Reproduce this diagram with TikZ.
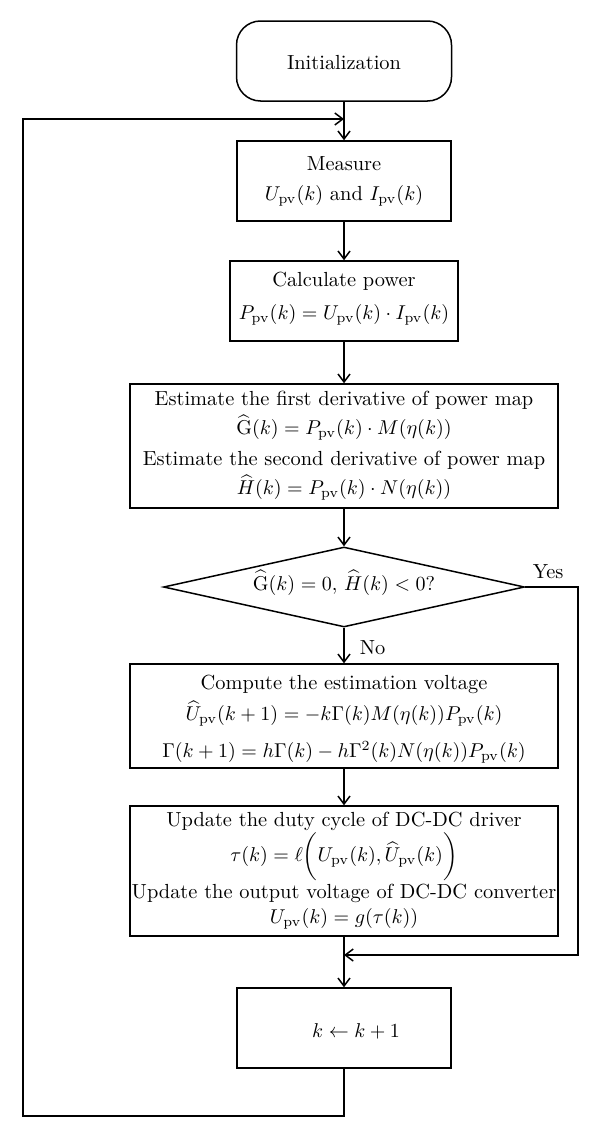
\documentclass[tikz,border=0pt]{standalone}
\usepackage{amsmath}
\usetikzlibrary{arrows.meta,shapes.geometric}
\newcommand{\fsz}[1]{\fontsize{10.2}{#1}\selectfont}
\begin{document}
\begin{tikzpicture}[x=0.5pt,y=-0.5pt,
  line width=0.75pt,
  box/.style={draw, inner sep=0pt},
  txt/.style={anchor=center, inner sep=0pt, align=center, font=\fsz{12pt}},
  arr/.style={-{Straight Barb[length=4pt,width=6pt,line width=0.75pt]}}]
\useasboundingbox (0,0) rectangle (600,1140);
% boxes
\node[box, rounded corners=12pt, minimum width=107.5pt, minimum height=40pt] (init) at (344,61) {};
\node[box, minimum width=107pt, minimum height=40pt] (meas) at (344,181) {};
\node[box, minimum width=114pt, minimum height=40pt] (calc) at (344,301) {};
\node[box, minimum width=214pt, minimum height=62pt] (est) at (344,446) {};
\node[draw, diamond, inner sep=0pt, minimum width=180.5pt, minimum height=40pt] (dec) at (344,587) {};
\node[box, minimum width=214pt, minimum height=52pt] (comp) at (344,716) {};
\node[box, minimum width=214pt, minimum height=65pt] (upd) at (344,871) {};
\node[box, minimum width=107pt, minimum height=40pt] (kk) at (344,1028) {};
% texts
\node[txt] (t0) at (344,63) {Initialization};
\node[txt, font=\fsz{15pt}] (t1) at (344,181) {Measure\\$U_{\mathrm{pv}}(k)$ and $I_{\mathrm{pv}}(k)$};
\node[txt, font=\fsz{16.5pt}] (t3) at (344,299) {Calculate power\\$P_{\mathrm{pv}}(k)=U_{\mathrm{pv}}(k)\cdot I_{\mathrm{pv}}(k)$};
\node[txt, font=\fsz{14.5pt}] (t5) at (344,446) {Estimate the first derivative of power map\\
  $\widehat{\mathrm{G}}(k)=P_{\mathrm{pv}}(k)\cdot M(\eta(k))$\\[1pt]
  Estimate the second derivative of power map\\
  $\widehat{H}(k)=P_{\mathrm{pv}}(k)\cdot N(\eta(k))$};
\node[txt, anchor=base] (t9) at (344,590) {$\widehat{\mathrm{G}}(k)=0,\,\widehat{H}(k)<0?$};
\node[txt, font=\fsz{15.5pt}] (t10) at (344,719) {Compute the estimation voltage\\
  $\widehat{U}_{\mathrm{pv}}(k+1)=-k\Gamma(k)M(\eta(k))P_{\mathrm{pv}}(k)$\\[3pt]
  $\Gamma(k+1)=h\Gamma(k)-h\Gamma^{2}(k)N(\eta(k))P_{\mathrm{pv}}(k)$};
\node[txt, font=\fsz{12.5pt}] (t13) at (344,870.5) {Update the duty cycle of DC-DC driver\\[5pt]
  \smash{$\tau(k)=\ell\biggl(U_{\mathrm{pv}}(k),\widehat{U}_{\mathrm{pv}}(k)\biggr)$}\\[6pt]
  Update the output voltage of DC-DC converter\\
  $U_{\mathrm{pv}}(k)=g(\tau(k))$};
\node[txt, anchor=base] (t17) at (356,1037) {$k\leftarrow k+1$};
\node[txt, anchor=base west] (yes) at (532,578) {Yes};
\node[txt, anchor=base west] (no) at (359,654) {No};
% connectors
\coordinate (lj) at (344,119);
\coordinate (lb1) at (344,1116);
\coordinate (lb2) at (23,1116);
\coordinate (lb3) at (23,119);
\coordinate (yj) at (344,955);
\coordinate (yc1) at (578,587);
\coordinate (yc2) at (578,955);
\draw[arr] (init) -- (meas);
\draw[arr] (meas) -- (calc);
\draw[arr] (calc) -- (est);
\draw[arr] (est) -- (dec);
\draw[arr] (dec) -- (comp);
\draw[arr] (comp) -- (upd);
\draw[arr] (upd) -- (kk);
\draw[arr] (kk.south) -- (lb1) -- (lb2) -- (lb3) -- (lj);
\draw[arr] (dec.east) -- (yc1) -- (yc2) -- (yj);
\end{tikzpicture}
\end{document}
